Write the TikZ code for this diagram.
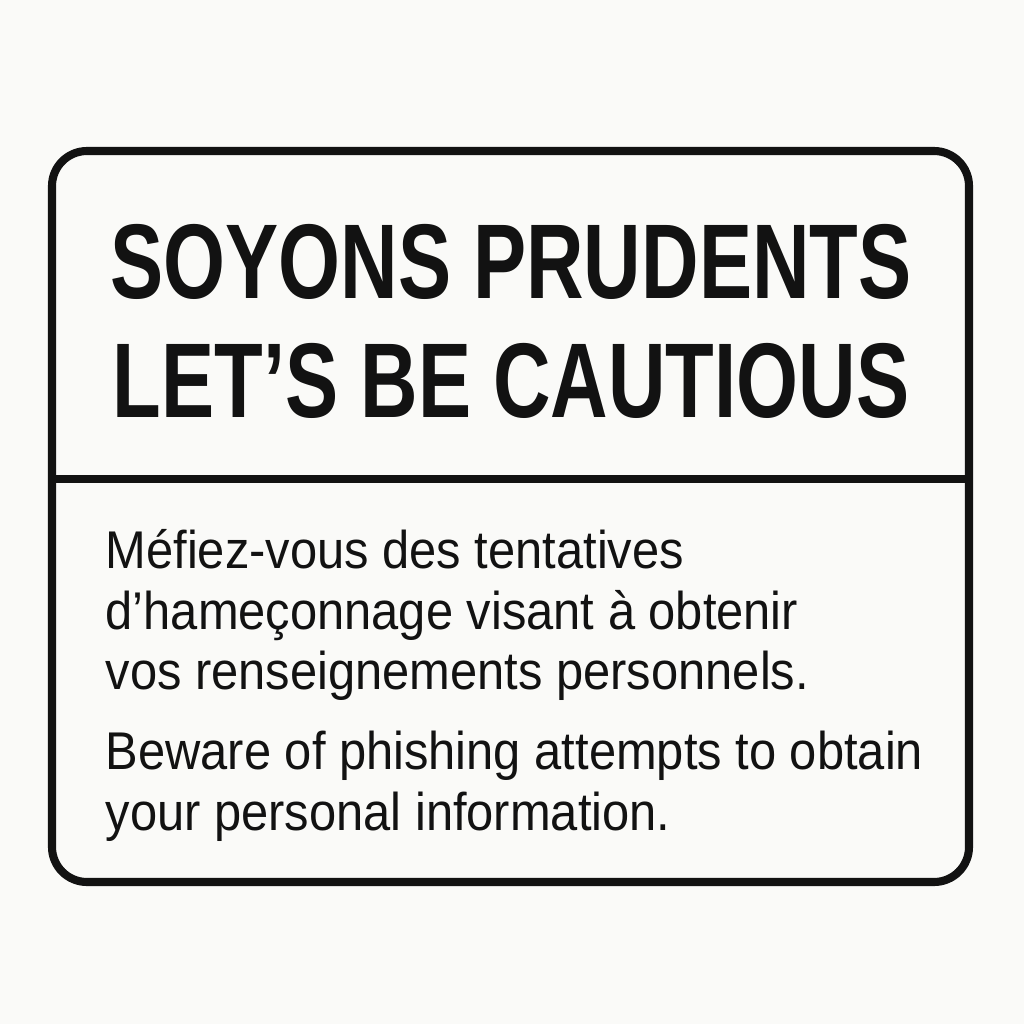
\documentclass[tikz,border=0pt]{standalone}
\usepackage{fontspec}
\setmainfont{Liberation Sans}
\newfontfamily\titlefont[FakeStretch=0.75]{Liberation Sans}
\newfontfamily\bodyfont[FakeStretch=0.92]{Liberation Sans}
\usetikzlibrary{positioning}
\definecolor{paper}{RGB}{250,250,248}
\definecolor{ink}{RGB}{18,18,18}

\begin{document}
\begin{tikzpicture}[x=0.01cm, y=-0.01cm,
  signline/.style={line width=2.3pt, draw=ink},
  titletext/.style={inner sep=0pt, text=ink, font=\titlefont\bfseries\fontsize{30.2}{34}\selectfont},
  bodytext/.style={inner sep=0pt, anchor=base west, text=ink, font=\bodyfont\fontsize{15.1}{17}\selectfont}]
% Page
\fill[paper] (0,0) rectangle (1024,1024);
\useasboundingbox (0,0) rectangle (1024,1024);

% Sign outline and divider
\draw[signline, rounded corners=0.35cm] (52,151) rectangle (969,882);
\coordinate (divL) at (52,479);
\coordinate (divR) at (969,479);
\draw[signline] (divL) -- (divR);

% Title
\node[titletext, anchor=base] (title1) at (511,298) {SOYONS PRUDENTS};
\node[titletext, anchor=base] (title2) at (511,417) {LET’S BE CAUTIOUS};

% French text
\node[bodytext] (fr1) at (105,568) {Méfiez-vous des tentatives};
\node[bodytext] (fr2) at (105,629) {d’hameçonnage visant à obtenir};
\node[bodytext] (fr3) at (105,689) {vos renseignements personnels.};

% English text
\node[bodytext] (en1) at (105,769) {Beware of phishing attempts to obtain};
\node[bodytext] (en2) at (105,830) {your personal information.};

\end{tikzpicture}
\end{document}
